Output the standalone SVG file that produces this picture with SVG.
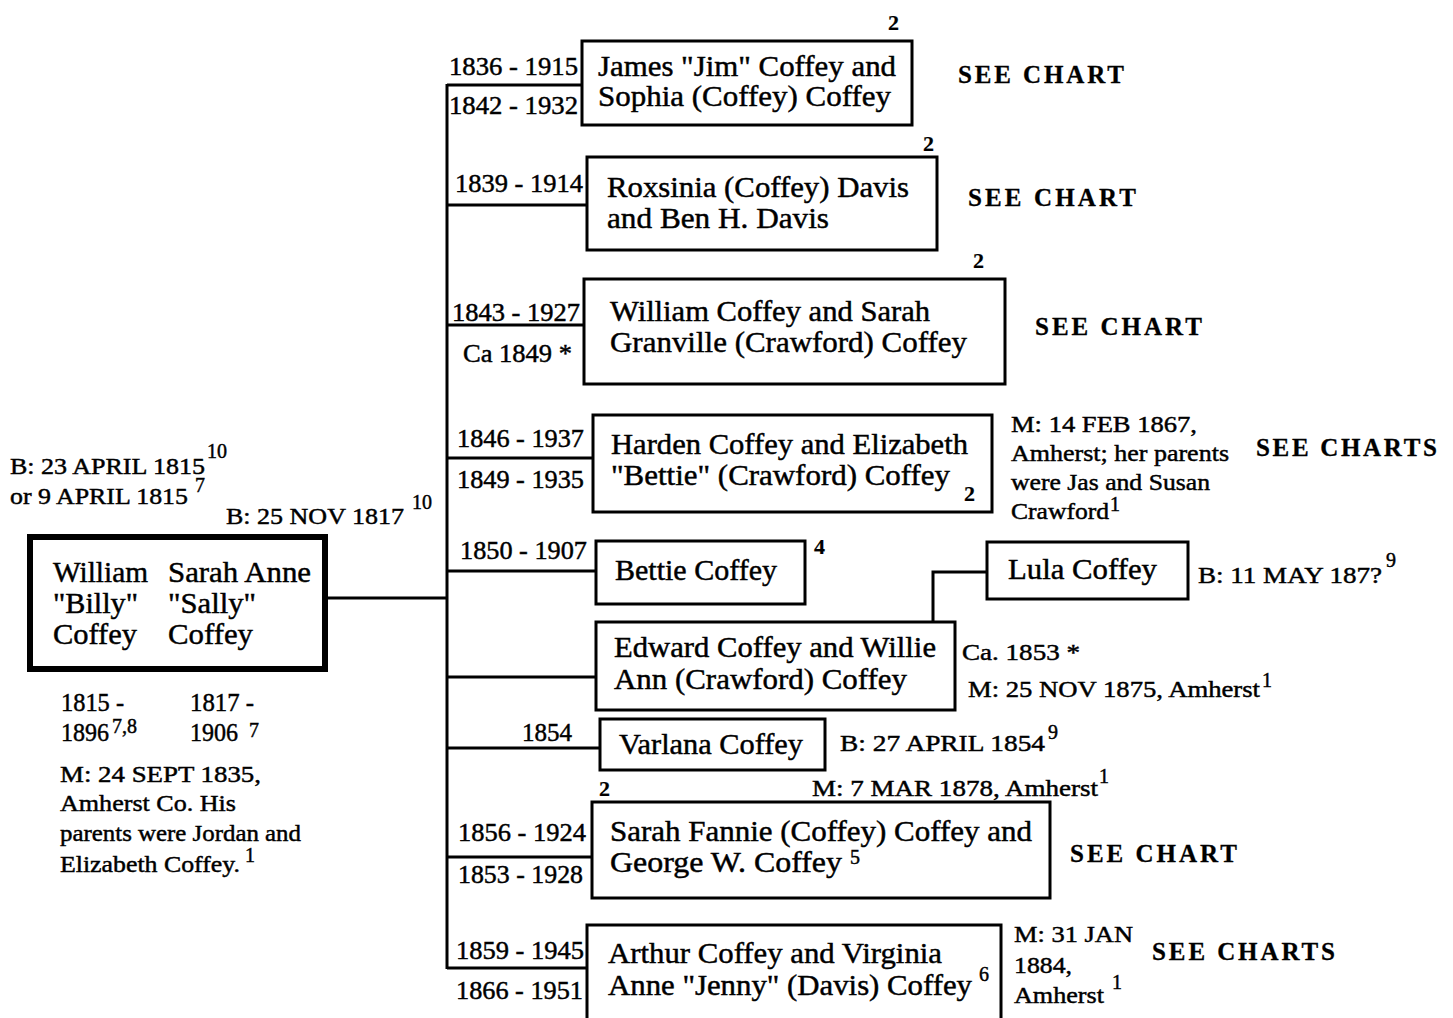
<svg xmlns="http://www.w3.org/2000/svg" width="1453" height="1018" viewBox="0 0 1453 1018">
<style>
text{font-family:"Liberation Serif","Times New Roman",serif;fill:#000;stroke:#000;stroke-width:0.45}
.n{font-size:29px}
.d{font-size:25px}
.m{font-size:23px}
.s{font-size:20px}
.k{font-size:22px;font-weight:bold;stroke-width:0.2}
.c{font-size:25px;font-weight:bold;stroke-width:0.3}
.box{fill:#fff;stroke:#000;stroke-width:3}
.pbox{fill:#fff;stroke:#000;stroke-width:6}
.ln{fill:none;stroke:#000;stroke-width:3}
</style>
<rect width="1453" height="1018" fill="#fff"/>
<g id="connectors">
<path class="ln" d="M447 84V969"/>
<path class="ln" d="M327 598H447"/>
<path class="ln" d="M447 85H582"/>
<path class="ln" d="M447 205H587"/>
<path class="ln" d="M447 325H584"/>
<path class="ln" d="M447 458H593"/>
<path class="ln" d="M447 571H596"/>
<path class="ln" d="M447 677H596"/>
<path class="ln" d="M447 748H600"/>
<path class="ln" d="M447 857H592"/>
<path class="ln" d="M447 968H587"/>
<path class="ln" d="M933 622V572H987"/>
</g>
<g id="parents">
<rect class="pbox" x="30" y="537" width="295" height="132"/>
<text class="n" x="53" y="582" textLength="95" lengthAdjust="spacingAndGlyphs">William</text>
<text class="n" x="168" y="582" textLength="143" lengthAdjust="spacingAndGlyphs">Sarah Anne</text>
<text class="n" x="53" y="613" textLength="85" lengthAdjust="spacingAndGlyphs">"Billy"</text>
<text class="n" x="168" y="613" textLength="88" lengthAdjust="spacingAndGlyphs">"Sally"</text>
<text class="n" x="53" y="644" textLength="84" lengthAdjust="spacingAndGlyphs">Coffey</text>
<text class="n" x="168" y="644" textLength="85" lengthAdjust="spacingAndGlyphs">Coffey</text>
<text class="m" x="10" y="474" textLength="195" lengthAdjust="spacingAndGlyphs">B: 23 APRIL 1815</text>
<text class="s" x="207" y="458">10</text>
<text class="m" x="10" y="504" textLength="178" lengthAdjust="spacingAndGlyphs">or 9 APRIL 1815</text>
<text class="s" x="195" y="492">7</text>
<text class="m" x="226" y="524" textLength="178" lengthAdjust="spacingAndGlyphs">B: 25 NOV 1817</text>
<text class="s" x="412" y="509">10</text>
<text class="d" x="61" y="711" textLength="63" lengthAdjust="spacingAndGlyphs">1815 -</text>
<text class="d" x="190" y="711" textLength="64" lengthAdjust="spacingAndGlyphs">1817 -</text>
<text class="d" x="61" y="741" textLength="48" lengthAdjust="spacingAndGlyphs">1896</text>
<text class="s" x="112" y="733">7,8</text>
<text class="d" x="190" y="741" textLength="48" lengthAdjust="spacingAndGlyphs">1906</text>
<text class="s" x="249" y="737">7</text>
<text class="m" x="60" y="782" textLength="201" lengthAdjust="spacingAndGlyphs">M: 24 SEPT 1835,</text>
<text class="m" x="60" y="811" textLength="176" lengthAdjust="spacingAndGlyphs">Amherst Co. His</text>
<text class="m" x="60" y="841" textLength="241" lengthAdjust="spacingAndGlyphs">parents were Jordan and</text>
<text class="m" x="60" y="872" textLength="180" lengthAdjust="spacingAndGlyphs">Elizabeth Coffey.</text>
<text class="s" x="245" y="862">1</text>
</g>
<g id="james">
<rect class="box" x="582" y="41" width="330" height="84"/>
<text class="k" x="888" y="30">2</text>
<text class="d" x="449" y="75" textLength="129" lengthAdjust="spacingAndGlyphs">1836 - 1915</text>
<text class="d" x="449" y="114" textLength="129" lengthAdjust="spacingAndGlyphs">1842 - 1932</text>
<text class="n" x="598" y="76" textLength="298" lengthAdjust="spacingAndGlyphs">James "Jim" Coffey and</text>
<text class="n" x="598" y="106" textLength="293" lengthAdjust="spacingAndGlyphs">Sophia (Coffey) Coffey</text>
<text class="c" x="958" y="83" textLength="166" lengthAdjust="spacing">SEE CHART</text>
</g>
<g id="roxsinia">
<rect class="box" x="587" y="157" width="350" height="93"/>
<text class="k" x="923" y="151">2</text>
<text class="d" x="455" y="192" textLength="128" lengthAdjust="spacingAndGlyphs">1839 - 1914</text>
<text class="n" x="607" y="197" textLength="302" lengthAdjust="spacingAndGlyphs">Roxsinia (Coffey) Davis</text>
<text class="n" x="607" y="228" textLength="222" lengthAdjust="spacingAndGlyphs">and Ben H. Davis</text>
<text class="c" x="968" y="206" textLength="168" lengthAdjust="spacing">SEE CHART</text>
</g>
<g id="william">
<rect class="box" x="584" y="279" width="421" height="105"/>
<text class="k" x="973" y="268">2</text>
<text class="d" x="452" y="321" textLength="128" lengthAdjust="spacingAndGlyphs">1843 - 1927</text>
<text class="d" x="463" y="362" textLength="109" lengthAdjust="spacingAndGlyphs">Ca 1849 *</text>
<text class="n" x="610" y="321" textLength="320" lengthAdjust="spacingAndGlyphs">William Coffey and Sarah</text>
<text class="n" x="610" y="352" textLength="357" lengthAdjust="spacingAndGlyphs">Granville (Crawford) Coffey</text>
<text class="c" x="1035" y="335" textLength="167" lengthAdjust="spacing">SEE CHART</text>
</g>
<g id="harden">
<rect class="box" x="593" y="415" width="399" height="97"/>
<text class="d" x="457" y="447" textLength="127" lengthAdjust="spacingAndGlyphs">1846 - 1937</text>
<text class="d" x="457" y="488" textLength="127" lengthAdjust="spacingAndGlyphs">1849 - 1935</text>
<text class="n" x="611" y="454" textLength="357" lengthAdjust="spacingAndGlyphs">Harden Coffey and Elizabeth</text>
<text class="n" x="611" y="485" textLength="339" lengthAdjust="spacingAndGlyphs">"Bettie" (Crawford) Coffey</text>
<text class="k" x="964" y="501">2</text>
<text class="m" x="1011" y="432" textLength="186" lengthAdjust="spacingAndGlyphs">M: 14 FEB 1867,</text>
<text class="m" x="1011" y="461" textLength="218" lengthAdjust="spacingAndGlyphs">Amherst; her parents</text>
<text class="m" x="1011" y="490" textLength="199" lengthAdjust="spacingAndGlyphs">were Jas and Susan</text>
<text class="m" x="1011" y="519" textLength="98" lengthAdjust="spacingAndGlyphs">Crawford</text>
<text class="s" x="1110" y="511">1</text>
<text class="c" x="1256" y="456" textLength="181" lengthAdjust="spacing">SEE CHARTS</text>
</g>
<g id="bettie">
<rect class="box" x="596" y="541" width="209" height="63"/>
<text class="d" x="460" y="559" textLength="127" lengthAdjust="spacingAndGlyphs">1850 - 1907</text>
<text class="n" x="615" y="580" textLength="162" lengthAdjust="spacingAndGlyphs">Bettie Coffey</text>
<text class="k" x="814" y="554">4</text>
</g>
<g id="lula">
<rect class="box" x="987" y="542" width="201" height="57"/>
<text class="n" x="1008" y="579" textLength="149" lengthAdjust="spacingAndGlyphs">Lula Coffey</text>
<text class="m" x="1198" y="583" textLength="184" lengthAdjust="spacingAndGlyphs">B: 11 MAY 187?</text>
<text class="s" x="1386" y="567">9</text>
</g>
<g id="edward">
<rect class="box" x="596" y="622" width="359" height="88"/>
<text class="n" x="614" y="657" textLength="322" lengthAdjust="spacingAndGlyphs">Edward Coffey and Willie</text>
<text class="n" x="614" y="689" textLength="293" lengthAdjust="spacingAndGlyphs">Ann (Crawford) Coffey</text>
<text class="m" x="962" y="660" textLength="118" lengthAdjust="spacingAndGlyphs">Ca. 1853 *</text>
<text class="m" x="968" y="697" textLength="292" lengthAdjust="spacingAndGlyphs">M: 25 NOV 1875, Amherst</text>
<text class="s" x="1262" y="687">1</text>
</g>
<g id="varlana">
<rect class="box" x="600" y="719" width="225" height="51"/>
<text class="d" x="522" y="741" textLength="50" lengthAdjust="spacingAndGlyphs">1854</text>
<text class="n" x="619" y="754" textLength="184" lengthAdjust="spacingAndGlyphs">Varlana Coffey</text>
<text class="m" x="840" y="751" textLength="205" lengthAdjust="spacingAndGlyphs">B: 27 APRIL 1854</text>
<text class="s" x="1048" y="739">9</text>
<text class="k" x="599" y="796">2</text>
<text class="m" x="812" y="796" textLength="286" lengthAdjust="spacingAndGlyphs">M: 7 MAR 1878, Amherst</text>
<text class="s" x="1099" y="783">1</text>
</g>
<g id="sarah-fannie">
<rect class="box" x="592" y="802" width="458" height="96"/>
<text class="d" x="458" y="841" textLength="128" lengthAdjust="spacingAndGlyphs">1856 - 1924</text>
<text class="d" x="458" y="883" textLength="125" lengthAdjust="spacingAndGlyphs">1853 - 1928</text>
<text class="n" x="610" y="841" textLength="422" lengthAdjust="spacingAndGlyphs">Sarah Fannie (Coffey) Coffey and</text>
<text class="n" x="610" y="872" textLength="232" lengthAdjust="spacingAndGlyphs">George W. Coffey</text>
<text class="s" x="850" y="864">5</text>
<text class="c" x="1070" y="862" textLength="167" lengthAdjust="spacing">SEE CHART</text>
</g>
<g id="arthur">
<rect class="box" x="587" y="925" width="414" height="110"/>
<text class="d" x="456" y="959" textLength="128" lengthAdjust="spacingAndGlyphs">1859 - 1945</text>
<text class="d" x="456" y="999" textLength="127" lengthAdjust="spacingAndGlyphs">1866 - 1951</text>
<text class="n" x="608" y="963" textLength="334" lengthAdjust="spacingAndGlyphs">Arthur Coffey and Virginia</text>
<text class="n" x="608" y="995" textLength="364" lengthAdjust="spacingAndGlyphs">Anne "Jenny" (Davis) Coffey</text>
<text class="s" x="979" y="981">6</text>
<text class="m" x="1014" y="942" textLength="119" lengthAdjust="spacingAndGlyphs">M: 31 JAN</text>
<text class="m" x="1014" y="973" textLength="58" lengthAdjust="spacingAndGlyphs">1884,</text>
<text class="m" x="1014" y="1003" textLength="90" lengthAdjust="spacingAndGlyphs">Amherst</text>
<text class="s" x="1112" y="989">1</text>
<text class="c" x="1152" y="960" textLength="183" lengthAdjust="spacing">SEE CHARTS</text>
</g>
</svg>
